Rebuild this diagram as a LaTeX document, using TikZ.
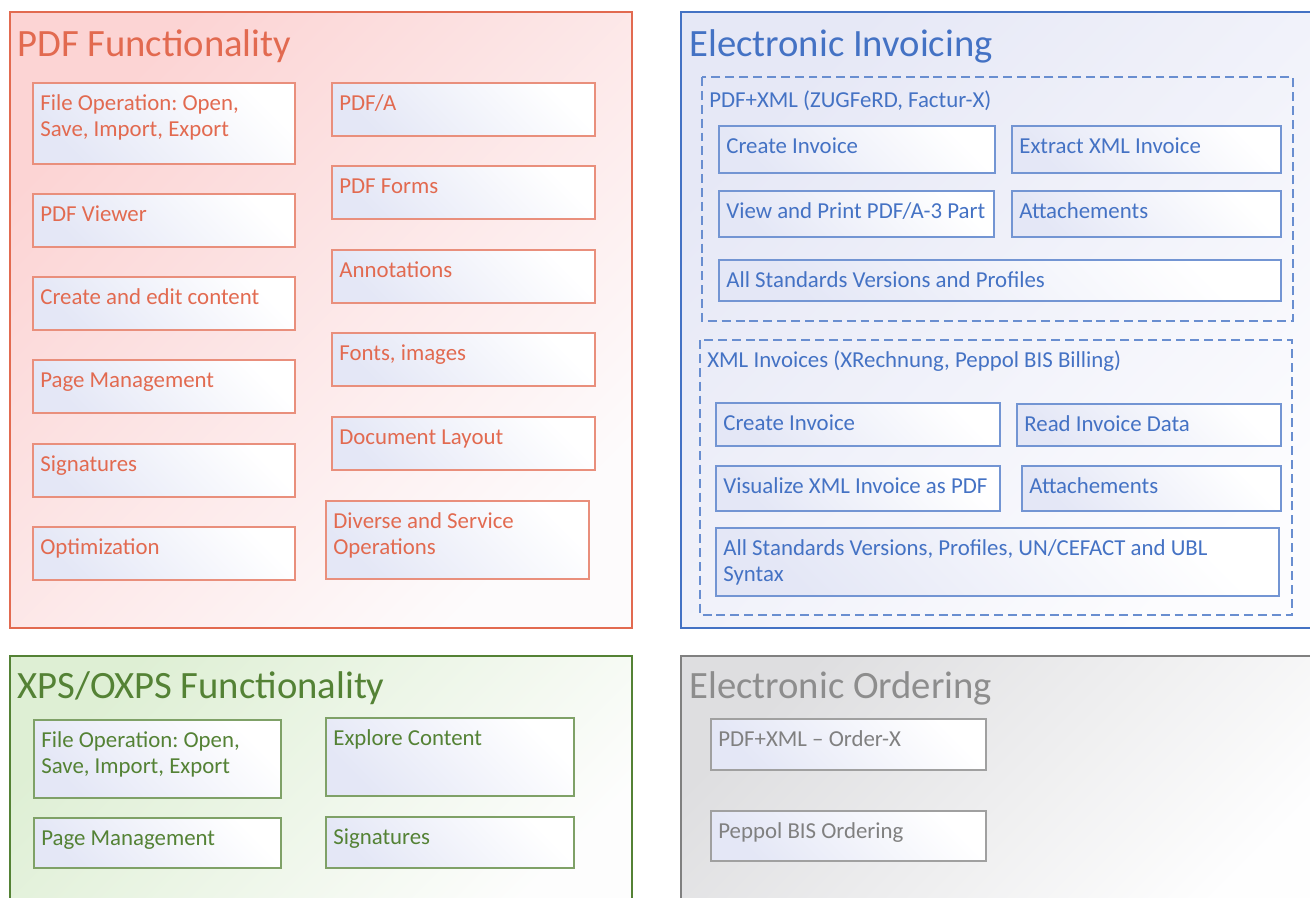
\documentclass[tikz,border=0pt]{standalone}
\usepackage{fontspec}
\setmainfont{Carlito}
\frenchspacing
\definecolor{pdfred}{RGB}{226,106,80}
\definecolor{invblue}{RGB}{68,114,196}
\definecolor{xpsgreen}{RGB}{84,130,53}
\definecolor{ordgray}{RGB}{128,128,128}
\definecolor{lav}{RGB}{228,231,246}
% one feature box: name, x1, y1, x2, y2, colour, text
\newcommand{\featbox}[7]{%
  \shade[itembox, draw=#6!75] (#2,#3) rectangle (#4,#5);
  \node[itemtext, text=#6] (#1) at ({#2+7},{#3+27}) {#7};
}
\begin{document}
\begin{tikzpicture}[x=0.02cm,y=-0.02cm,
  panel/.style={line width=1.1pt},
  group/.style={dash pattern=on 5.1pt off 2.8pt, line width=0.8pt},
  itembox/.style={line width=0.8pt, top color=white, middle color=white,
    bottom color=lav, shading angle=-45},
  itemtext/.style={anchor=base west, align=flush left, inner sep=0pt, text width=11.5cm,
    font=\fontsize{13}{15.3}\selectfont\frenchspacing},
  paneltitle/.style={anchor=base west, inner sep=0pt,
    font=\fontsize{22}{26}\selectfont}]
  \useasboundingbox (0,0) rectangle (1310,897);

  %---------------------------------------
  % PDF Functionality (top left)
  \shade[panel, draw=pdfred, top color={rgb,255:red,252;green,212;blue,212},
    middle color={rgb,255:red,250;green,240;blue,242},
    bottom color={rgb,255:red,253;green,251;blue,252}, shading angle=45]
    (10,12) rectangle (632,628);
  \node[paneltitle, text=pdfred] (pdftitle) at (17,56) {PDF Functionality};

  % left column
  \featbox{pdffile}{33}{83}{295}{164}{pdfred}{File Operation: Open,\\Save, Import, Export}
  \foreach \n/\ya/\yb/\t in {pdfview/194/247/PDF Viewer,
      pdfedit/277/330/Create and edit content,
      pdfpage/360/413/Page Management,
      pdfsign/444/497/Signatures,
      pdfopt/527/580/Optimization}
    \featbox{\n}{33}{\ya}{295}{\yb}{pdfred}{\t};

  % right column
  \foreach \n/\ya/\yb/\t in {pdfa/83/136/{PDF/A},
      pdfforms/166/219/PDF Forms,
      pdfannot/250/303/Annotations,
      pdffonts/333/386/{Fonts, images},
      pdflayout/417/470/Document Layout}
    \featbox{\n}{332}{\ya}{595}{\yb}{pdfred}{\t};
  \featbox{pdfdiv}{326}{501}{589}{579}{pdfred}{Diverse and Service\\Operations}

  %---------------------------------------
  % Electronic Invoicing (top right)
  \shade[panel, draw=invblue, top color={rgb,255:red,230;green,232;blue,246},
    middle color={rgb,255:red,245;green,246;blue,251},
    bottom color={rgb,255:red,252;green,252;blue,254}, shading angle=45]
    (681,12) rectangle (1330,628);
  \node[paneltitle, text=invblue] (invtitle) at (689,56) {Electronic Invoicing};

  % PDF+XML group
  \draw[group, draw=invblue!80] (702,77) rectangle (1293,321);
  \node[itemtext, text=invblue] (hybrid) at (709,107) {PDF+XML (ZUGFeRD, Factur-X)};
  \featbox{hycreate}{719}{126}{995}{173}{invblue}{Create Invoice}
  \featbox{hyextract}{1012}{126}{1281}{173}{invblue}{Extract XML Invoice}
  \featbox{hyview}{719}{191}{994}{237}{invblue}{View and Print PDF/A-3 Part}
  \featbox{hyattach}{1012}{191}{1281}{237}{invblue}{Attachements}
  \featbox{hystd}{719}{260}{1281}{301}{invblue}{All Standards Versions and Profiles}

  % XML group
  \draw[group, draw=invblue!80] (700,340) rectangle (1292,615);
  \node[itemtext, text=invblue] (xmlinv) at (707,367) {XML Invoices (XRechnung, Peppol BIS Billing)};
  \featbox{xmcreate}{716}{403}{1000}{446}{invblue}{Create Invoice}
  \featbox{xmread}{1017}{404}{1281}{446}{invblue}{Read Invoice Data}
  \featbox{xmvis}{716}{466}{1000}{511}{invblue}{Visualize XML Invoice as PDF}
  \featbox{xmattach}{1022}{466}{1281}{511}{invblue}{Attachements}
  \featbox{xmstd}{716}{528}{1279}{596}{invblue}{All Standards Versions, Profiles, UN/CEFACT and UBL\\Syntax}

  %---------------------------------------
  % XPS/OXPS Functionality (bottom left)
  \shade[panel, draw=xpsgreen, top color={rgb,255:red,222;green,239;blue,212},
    middle color={rgb,255:red,247;green,251;blue,245},
    bottom color={rgb,255:red,253;green,253;blue,253}, shading angle=45]
    (10,656) rectangle (632,920);
  \node[paneltitle, text=xpsgreen] (xpstitle) at (17,698) {XPS/OXPS Functionality};
  \featbox{xpsfile}{34}{720}{281}{798}{xpsgreen}{File Operation: Open,\\Save, Import, Export}
  \featbox{xpsexpl}{326}{718}{574}{796}{xpsgreen}{Explore Content}
  \featbox{xpspage}{34}{818}{281}{868}{xpsgreen}{Page Management}
  \featbox{xpssign}{326}{817}{574}{868}{xpsgreen}{Signatures}

  %---------------------------------------
  % Electronic Ordering (bottom right)
  \shade[panel, draw=ordgray, top color={rgb,255:red,222;green,222;blue,224},
    middle color={rgb,255:red,247;green,247;blue,247},
    bottom color={rgb,255:red,254;green,254;blue,254}, shading angle=45]
    (681,656) rectangle (1330,920);
  \node[paneltitle, text=ordgray!90] (ordtitle) at (689,698) {Electronic Ordering};
  \featbox{ordx}{711}{719}{986}{770}{ordgray}{PDF+XML -- Order-X}
  \featbox{ordbis}{711}{811}{986}{861}{ordgray}{Peppol BIS Ordering}
\end{tikzpicture}
\end{document}
